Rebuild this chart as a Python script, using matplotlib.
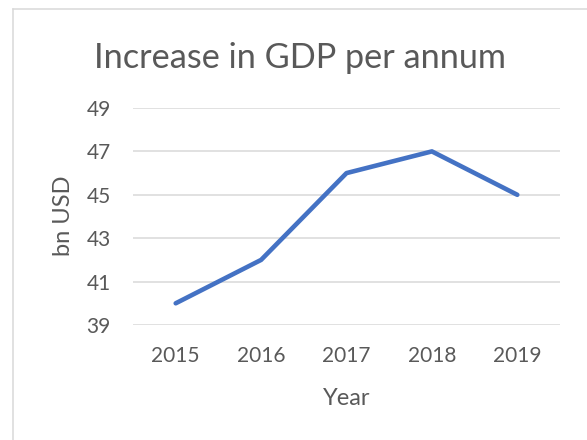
import matplotlib
matplotlib.use('Agg')
import matplotlib.pyplot as plt
from matplotlib.lines import Line2D

# chart data
years = ['2015', '2016', '2017', '2018', '2019']
gdp_increase = [40, 42, 46, 47, 45]
y_ticks = [39, 41, 43, 45, 47, 49]

W, H = 587, 440
text_col = '#595959'
grid_col = '#D9D9D9'

plt.rcParams['font.family'] = ['Lato', 'DejaVu Sans']

fig = plt.figure(figsize=(W / 100, H / 100), dpi=100)
ax = fig.add_axes([133 / W, 1 - 325 / H, (560 - 133) / W, (325 - 108) / H])

x = range(len(years))
ax.plot(x, gdp_increase, color='#4472C4', linewidth=3.3,
        solid_capstyle='round', solid_joinstyle='round', zorder=3)

ax.set_xlim(-0.5, len(years) - 0.5)
ax.set_ylim(y_ticks[0], y_ticks[-1])
ax.set_xticks(list(x))
ax.set_xticklabels(years)
ax.set_yticks(y_ticks)
ax.grid(axis='y', color=grid_col, linewidth=1.1)
ax.set_axisbelow(True)
for s in ax.spines.values():
    s.set_visible(False)
ax.tick_params(axis='both', length=0, labelsize=15, labelcolor=text_col)
ax.tick_params(axis='x', pad=15)
ax.tick_params(axis='y', pad=16)

fig.text(300 / W, 1 - 68 / H, 'Increase in GDP per annum', ha='center',
         va='baseline', fontsize=24.7, color=text_col)
fig.text(63 / W, 1 - 216 / H, 'bn USD', rotation=90, ha='center',
         va='center', fontsize=17, color=text_col)
fig.text(347 / W, 1 - 405 / H, 'Year', ha='center', va='baseline',
         fontsize=17, color=text_col)

# chart area border (only top and left visible in the crop)
fig.add_artist(Line2D([12.5 / W, 1], [1 - 9.5 / H, 1 - 9.5 / H],
                      transform=fig.transFigure, color=grid_col, linewidth=1.1))
fig.add_artist(Line2D([12.5 / W, 12.5 / W], [0, 1 - 9.5 / H],
                      transform=fig.transFigure, color=grid_col, linewidth=1.1))

fig.savefig('out.png', dpi=100)
